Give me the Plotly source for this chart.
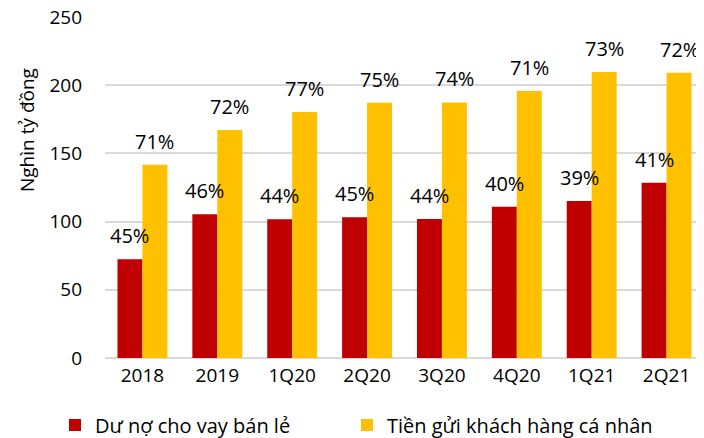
import plotly.graph_objects as go

categories = ["2018", "2019", "1Q20", "2Q20", "3Q20", "4Q20", "1Q21", "2Q21"]
retail_loans = [72.4, 105.3, 101.7, 103.1, 101.9, 110.9, 115.1, 128.5]
retail_deposits = [141.7, 167.2, 180.4, 187.2, 187.4, 195.7, 209.7, 209.2]
loan_pct = ["45%", "46%", "44%", "45%", "44%", "40%", "39%", "41%"]
deposit_pct = ["71%", "72%", "77%", "75%", "74%", "71%", "73%", "72%"]
y_ticks = [0, 50, 100, 150, 200, 250]

RED = "#C00000"
YELLOW = "#FFC000"
FONT = "Open Sans"

# page body has an 8px default margin, so layout is offset by 8px
L, R, T, B = 97, 8, 9, 88
PW = 704 - L - R
PH = 438 - T - B

fig = go.Figure()
fig.add_trace(go.Bar(name="Dư nợ cho vay bán lẻ", x=categories, y=retail_loans,
                     marker=dict(color=RED, line=dict(width=0)), offsetgroup="a",
                     legend="legend"))
fig.add_trace(go.Bar(name="Tiền gửi khách hàng cá nhân", x=categories, y=retail_deposits,
                     marker=dict(color=YELLOW, line=dict(width=0)), offsetgroup="b",
                     legend="legend2"))

annotations = []
for i, c in enumerate(categories):
    for vals, labels, shift in ((retail_loans, loan_pct, -12.5), (retail_deposits, deposit_pct, 12.5)):
        annotations.append(dict(x=i, y=vals[i], text=labels[i], xref="x", yref="y",
                                showarrow=False, yanchor="bottom", yshift=8, xshift=shift,
                                font=dict(family=FONT, size=20, color="#000000")))

annotations.append(dict(text="Nghìn tỷ đồng", xref="paper", yref="paper",
                        x=(19 - L) / PW, y=(T + PH - 122) / PH, textangle=-90,
                        showarrow=False, xanchor="center", yanchor="middle",
                        font=dict(family=FONT, size=19, color="#000000")))

legend_common = dict(orientation="h", yanchor="middle", xanchor="left",
                     font=dict(family=FONT, size=20, color="#000000"),
                     bgcolor="rgba(0,0,0,0)")

fig.update_layout(
    width=704, height=438,
    margin=dict(l=L, r=R, t=T, b=B, autoexpand=False),
    paper_bgcolor="white", plot_bgcolor="white",
    barmode="group", bargap=1/3, bargroupgap=0,
    font=dict(family=FONT, size=19, color="#000000"),
    showlegend=True,
    legend=dict(x=(47 - L) / PW, y=(T + PH - 417) / PH, **legend_common),
    legend2=dict(x=(339 - L) / PW, y=(T + PH - 417) / PH, **legend_common),
    annotations=annotations,
)
fig.update_xaxes(type="category", range=[-0.5, len(categories) - 0.5], showgrid=False,
                 showline=False, ticks="", tickfont=dict(size=19), ticklabelstandoff=4,
                 automargin=False)
fig.update_yaxes(range=[0, 250], tickvals=y_ticks, showgrid=True, gridcolor="#D9D9D9",
                 gridwidth=1.5, zeroline=True, zerolinecolor="#D9D9D9", zerolinewidth=1.5,
                 showline=False, ticks="", ticklabelstandoff=22, tickfont=dict(size=19),
                 ticklabeloverflow="allow", automargin=False)

fig.write_html("out.html")
